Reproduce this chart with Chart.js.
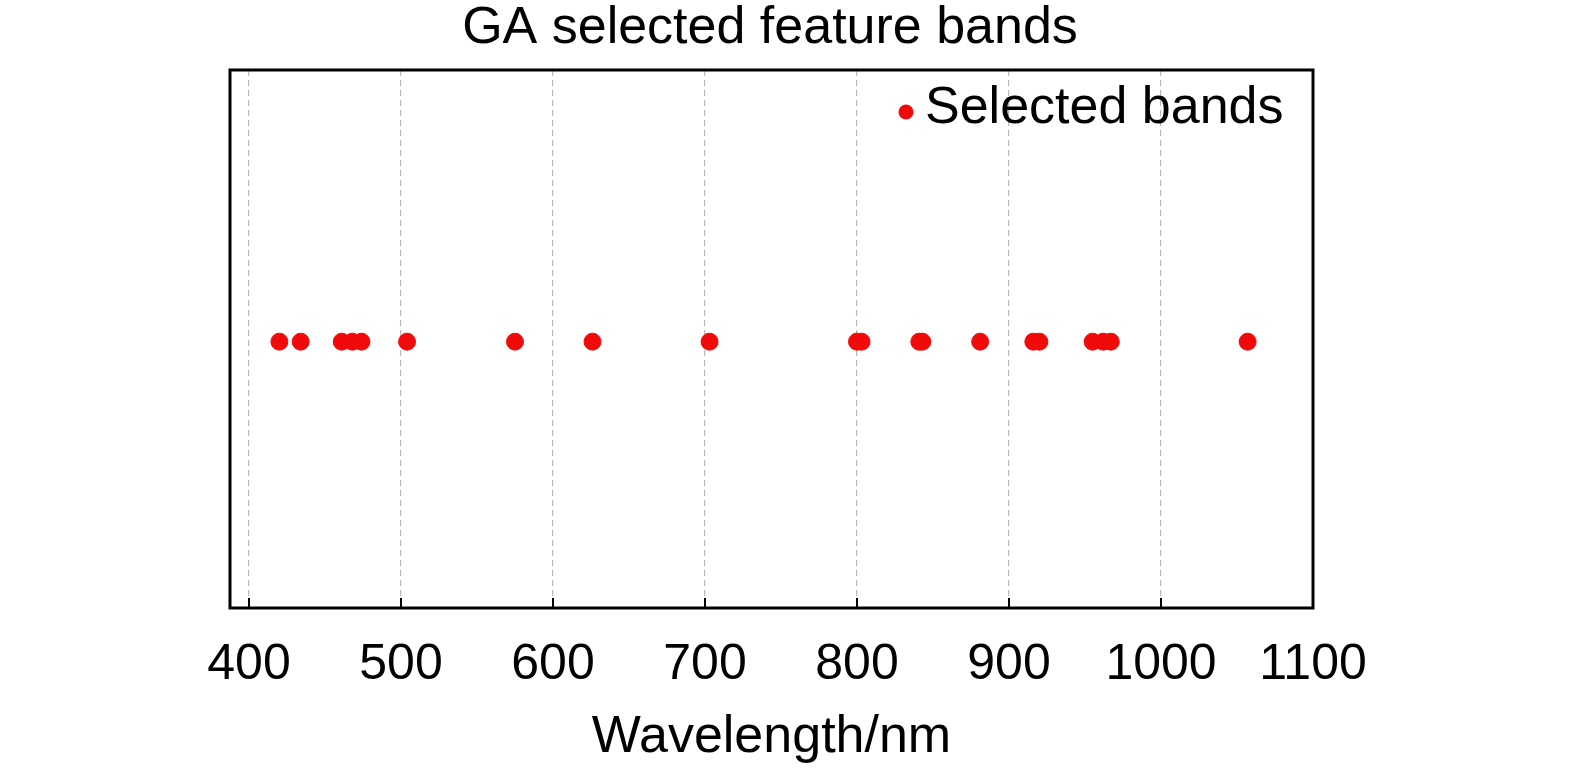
<!DOCTYPE html>
<html>
<head>
<meta charset="utf-8">
<script src="https://cdn.jsdelivr.net/npm/chart.js@4/dist/chart.umd.min.js"></script>
<style>
  html, body { margin: 0; padding: 0; background: #fff; }
  #wrap { width: 1575px; height: 769px; }
</style>
</head>
<body>
<div id="wrap"><canvas id="bandsChart"></canvas></div>
<script>
// wavelengths (nm) of GA selected bands
const wavelengths = [420, 434, 461, 468, 474, 504, 575, 626, 703, 800, 803, 841, 843, 881, 916, 920, 955, 962, 967, 1057];
const bandLevel = [1, 1, 1, 1, 1, 1, 1, 1, 1, 1, 1, 1, 1, 1, 1, 1, 1, 1, 1, 1];
const xTickValues = [400, 500, 600, 700, 800, 900, 1000, 1100];
const chartTitle = 'GA selected feature bands';
const seriesName = 'Selected bands';

const fontFamily = '"Liberation Sans", Arial, sans-serif';
const red = '#f00a0a';

// title, legend, frame and inward tick marks
const framePlugin = {
    id: 'frame',
    afterDraw(chart) {
        const { ctx, chartArea: a, scales } = chart;
        ctx.save();
        ctx.strokeStyle = '#000';
        ctx.lineWidth = 3;
        ctx.strokeRect(a.left, a.top, a.right - a.left, a.bottom - a.top);
        ctx.lineWidth = 2;
        scales.x.ticks.forEach(t => {
            if (t.value >= 1100) return;
            const px = Math.round(scales.x.getPixelForValue(t.value));
            ctx.beginPath();
            ctx.moveTo(px, a.bottom);
            ctx.lineTo(px, a.bottom - 10);
            ctx.stroke();
        });

        // title
        ctx.fillStyle = '#000';
        ctx.font = '52px ' + fontFamily;
        ctx.textAlign = 'center';
        ctx.textBaseline = 'alphabetic';
        ctx.fillText(chartTitle, 770, 43);

        // legend
        ctx.fillStyle = red;
        ctx.beginPath();
        ctx.arc(906, 112, 7.5, 0, Math.PI * 2);
        ctx.fill();
        ctx.fillStyle = '#000';
        ctx.textAlign = 'left';
        ctx.fillText(chart.data.datasets[0].label, 925, 123);
        ctx.restore();
    }
};

const points = wavelengths.map((w, i) => ({ x: w, y: bandLevel[i] }));

new Chart(document.getElementById('bandsChart'), {
    type: 'scatter',
    data: {
        datasets: [{
            label: seriesName,
            data: points,
            backgroundColor: red,
            borderColor: red,
            pointRadius: 8.5,
            pointHoverRadius: 8.5,
            pointStyle: 'circle'
        }]
    },
    options: {
        responsive: true,
        maintainAspectRatio: false,
        animation: false,
        layout: { padding: { left: 230, right: 262, top: 70, bottom: 0 } },
        plugins: {
            title: { display: false },
            legend: { display: false },
            tooltip: { enabled: false }
        },
        scales: {
            x: {
                type: 'linear',
                min: 387.5,
                max: 1100,
                afterBuildTicks(axis) {
                    axis.ticks = xTickValues.map(v => ({ value: v }));
                },
                afterFit(axis) { axis.height = 161; },
                border: { display: false, dash: [6, 4] },
                grid: {
                    color: ctx => (ctx.tick && ctx.tick.value < 1100) ? '#b8b8b8' : 'rgba(0,0,0,0)',
                    lineWidth: 1.2,
                    drawTicks: false
                },
                ticks: {
                    color: '#000',
                    padding: 27,
                    maxRotation: 0,
                    autoSkip: false,
                    callback: v => String(v),
                    font: { family: fontFamily, size: 50 }
                },
                title: {
                    display: true,
                    text: 'Wavelength/nm',
                    color: '#000',
                    padding: { top: 2, bottom: 0 },
                    font: { family: fontFamily, size: 52 }
                }
            },
            y: {
                min: 0,
                max: 2.02,
                display: true,
                border: { display: false },
                grid: { display: false, drawTicks: false },
                ticks: { display: false },
                afterFit(axis) { axis.width = 0; }
            }
        }
    },
    plugins: [framePlugin]
});
</script>
</body>
</html>
